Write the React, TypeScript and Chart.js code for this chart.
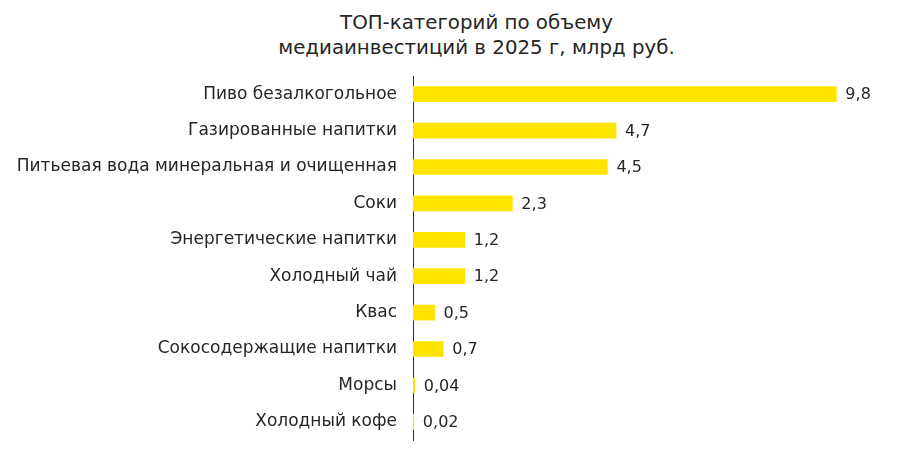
import { useEffect, useRef } from "react";
import Chart from "chart.js/auto";

const categories = [
  "Пиво безалкогольное",
  "Газированные напитки",
  "Питьевая вода минеральная и очищенная",
  "Соки",
  "Энергетические напитки",
  "Холодный чай",
  "Квас",
  "Сокосодержащие напитки",
  "Морсы",
  "Холодный кофе",
];

const values = [9.8, 4.7, 4.5, 2.3, 1.2, 1.2, 0.5, 0.7, 0.04, 0.02];

const titleLines = ["ТОП-категорий по объему", "медиаинвестиций в 2025 г, млрд руб."];

const FONT = "'DejaVu Sans', sans-serif";
const TEXT = "#262626";
const BAR = "#FFE400";

const formatValue = (v: number) => String(v).replace(".", ",");

const valueLabels = {
  id: "valueLabels",
  afterDatasetsDraw(chart: Chart) {
    const ctx = chart.ctx;
    const meta = chart.getDatasetMeta(0);
    ctx.save();
    ctx.font = `16px ${FONT}`;
    ctx.fillStyle = TEXT;
    ctx.textAlign = "left";
    ctx.textBaseline = "middle";
    meta.data.forEach((bar, i) => {
      const { x, y } = bar.getProps(["x", "y"], true) as { x: number; y: number };
      ctx.fillText(formatValue(values[i]), x + 9, y + 1);
    });
    ctx.restore();
  },
};

export default function App() {
  const canvasRef = useRef<HTMLCanvasElement | null>(null);

  useEffect(() => {
    document.body.style.margin = "0";
    const canvas = canvasRef.current;
    if (!canvas) return;

    const chart = new Chart(canvas, {
      type: "bar",
      data: {
        labels: categories,
        datasets: [
          {
            data: values,
            backgroundColor: BAR,
            barThickness: 15,
            borderWidth: 0,
          },
        ],
      },
      options: {
        indexAxis: "y",
        responsive: true,
        maintainAspectRatio: false,
        animation: false,
        layout: { padding: { top: 76, bottom: 12, right: 52, left: 0 } },
        plugins: {
          legend: { display: false },
          tooltip: { enabled: false },
        },
        scales: {
          x: {
            display: false,
            min: 0,
            max: 10,
          },
          y: {
            afterFit(scale) {
              scale.width = 413;
              scale.paddingTop = 0;
              scale.paddingBottom = 0;
            },
            grid: { display: false },
            border: { display: true, color: "#333333", width: 1 },
            ticks: {
              color: TEXT,
              padding: 8,
              font: { family: FONT, size: 17 },
            },
          },
        },
      },
      plugins: [valueLabels],
    });

    return () => chart.destroy();
  }, []);

  return (
    <div style={{ position: "relative", width: 897, height: 452 }}>
      <div
        style={{
          position: "absolute",
          top: 10,
          left: 56,
          right: 0,
          textAlign: "center",
          fontFamily: FONT,
          fontSize: 19.8,
          lineHeight: "25px",
          color: TEXT,
        }}
      >
        {titleLines.map((line) => (
          <div key={line}>{line}</div>
        ))}
      </div>
      <div style={{ position: "absolute", left: 0, top: 0, width: 897, height: 452 }}>
        <canvas ref={canvasRef} />
      </div>
    </div>
  );
}
